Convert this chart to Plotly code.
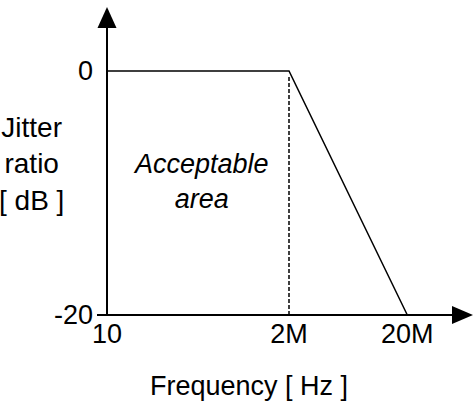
import plotly.graph_objects as go

# ---- data (schematic jitter-tolerance mask) ----
freq_labels = ["10", "2M", "20M"]          # tick labels on the frequency axis
freq_pos = [0.0, 1.0, 1.65]                # schematic (non-proportional) positions of those ticks
ratio_db = [0, 0, -20]                      # jitter ratio in dB at each frequency
ratio_ticks = [0, -20]
ratio_tick_labels = ["0", "-20"]

W, H = 474, 412
X0_PX, X_UNIT = 107, 182.0     # pixel of freq_pos=0, pixels per unit
Y0_PX, Y_UNIT = 71, 12.2       # pixel of 0 dB, pixels per dB

xr = [(0 - X0_PX) / X_UNIT, (W - X0_PX) / X_UNIT]
yr = [-(H - Y0_PX) / Y_UNIT, Y0_PX / Y_UNIT]

def px_x(p):  # pixel -> data x
    return (p - X0_PX) / X_UNIT

def px_y(p):  # pixel -> data y
    return (Y0_PX - p) / Y_UNIT

ybot = ratio_ticks[-1]
FONT = "Liberation Sans, Arial, sans-serif"
FS = 27

fig = go.Figure()

# mask line
fig.add_trace(go.Scatter(
    x=freq_pos, y=ratio_db, mode="lines",
    line=dict(color="black", width=1.5), hoverinfo="skip", showlegend=False))

# dashed corner-frequency marker
fig.add_trace(go.Scatter(
    x=[freq_pos[1], freq_pos[1]], y=[ratio_db[1] - 0.5, ratio_db[2]], mode="lines",
    line=dict(color="black", width=1.5, dash="4px,2px"), hoverinfo="skip", showlegend=False))

shapes = []
# y axis line + arrowhead
shapes.append(dict(type="line", xref="x", yref="y", x0=0, x1=0, y0=ybot, y1=px_y(27),
                   line=dict(color="black", width=2)))
hw = 9.5 / X_UNIT
shapes.append(dict(type="path", xref="x", yref="y",
                   path=f"M {-hw},{px_y(28)} L {hw},{px_y(28)} L 0,{px_y(7)} Z",
                   fillcolor="black", line=dict(color="black", width=0)))
# x axis line + arrowhead
shapes.append(dict(type="line", xref="x", yref="y", x0=px_x(97), x1=px_x(453), y0=ybot, y1=ybot,
                   line=dict(color="black", width=2)))
hh = 9 / Y_UNIT
shapes.append(dict(type="path", xref="x", yref="y",
                   path=f"M {px_x(452)},{ybot - hh} L {px_x(452)},{ybot + hh} L {px_x(473)},{ybot} Z",
                   fillcolor="black", line=dict(color="black", width=0)))

annotations = [
    dict(text="<i>Acceptable</i><br><i>area</i>", xref="paper", yref="paper",
         x=201 / W, y=1 - 181 / H, showarrow=False, xanchor="center", yanchor="middle",
         font=dict(family=FONT, size=FS, color="black"), align="center"),
    dict(text="Jitter<br>ratio<br>[ dB ]", xref="paper", yref="paper",
         x=31 / W, y=1 - 164 / H, showarrow=False, xanchor="center", yanchor="middle",
         font=dict(family=FONT, size=28, color="black"), align="center"),
    dict(text="Frequency [ Hz ]", xref="paper", yref="paper",
         x=248.5 / W, y=1 - 386 / H, showarrow=False, xanchor="center", yanchor="middle",
         font=dict(family=FONT, size=FS, color="black")),
]

fig.update_layout(
    width=W, height=H,
    margin=dict(l=0, r=0, t=0, b=0),
    paper_bgcolor="white", plot_bgcolor="white",
    showlegend=False,
    shapes=shapes, annotations=annotations,
    font=dict(family=FONT, size=FS, color="black"),
    xaxis=dict(range=xr, showgrid=False, zeroline=False, showline=False, ticks="",
               tickvals=freq_pos, ticktext=freq_labels, anchor="free",
               position=(ybot - yr[0]) / (yr[1] - yr[0]),
               tickfont=dict(family=FONT, size=FS, color="black"), fixedrange=True),
    yaxis=dict(range=yr, showgrid=False, zeroline=False, showline=False, ticks="",
               tickvals=ratio_ticks, ticktext=ratio_tick_labels, anchor="free",
               position=(0 - xr[0]) / (xr[1] - xr[0]), ticklabelstandoff=14,
               tickfont=dict(family=FONT, size=FS, color="black"), fixedrange=True),
)

fig.write_html("out.html", config={"displayModeBar": False},
               post_script="document.body.style.margin='0';document.body.style.overflow='hidden';")
